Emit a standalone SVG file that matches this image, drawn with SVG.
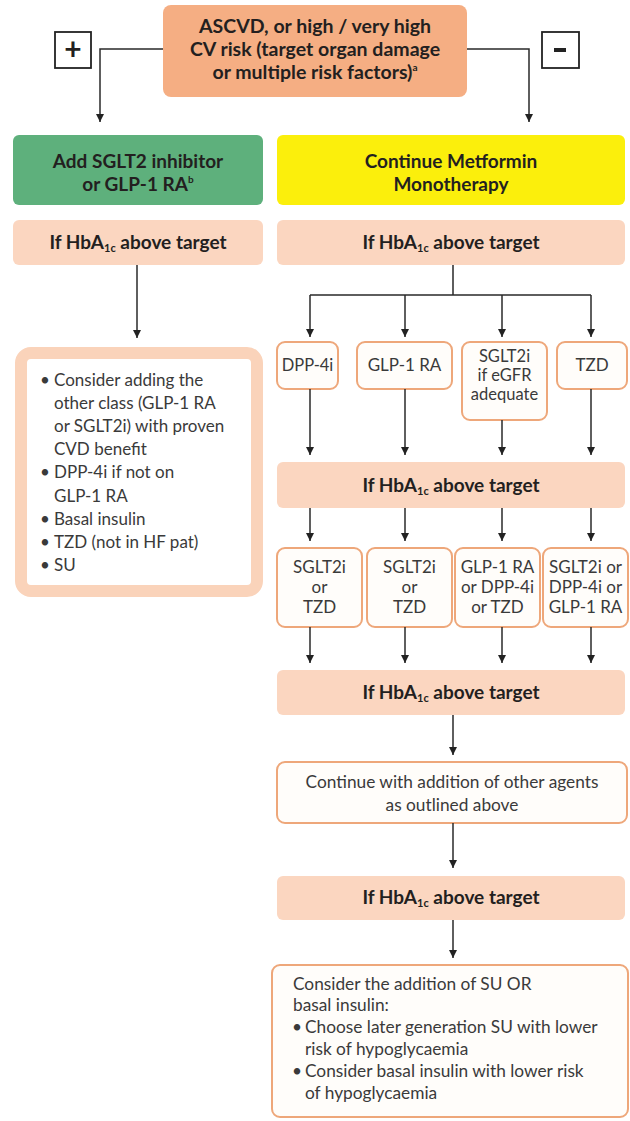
<svg xmlns="http://www.w3.org/2000/svg" width="630" height="1121" viewBox="0 0 630 1121">
<defs>
<marker id="arr" viewBox="0 0 10 10" refX="10" refY="5" markerWidth="8" markerHeight="9" markerUnits="userSpaceOnUse" orient="auto">
<path d="M0,0 L10,5 L0,10 Z" fill="#222"/>
</marker>
<style>
.hd{font-family:Lato,"Liberation Sans",sans-serif;font-weight:bold;fill:#231f20;text-anchor:middle}
.tx{font-family:Lato,"Liberation Sans",sans-serif;fill:#3a3a3a}
.mid{text-anchor:middle}
.hb{fill:#fbd6c0}
.sm{fill:#fffdfa;stroke:#eea77a;stroke-width:2}
.cn path{fill:none;stroke:#2a2a2a;stroke-width:1.5}
.cn path.a{marker-end:url(#arr)}
</style>
</defs>
<rect width="630" height="1121" fill="#ffffff"/>

<g id="top">
<rect x="163" y="5" width="304" height="92" rx="8" fill="#f5ae83"/>
<text class="hd" font-size="19.5"><tspan x="315" y="33">ASCVD, or high / very high</tspan><tspan x="315" y="56">CV risk (target organ damage</tspan><tspan x="315" y="79">or multiple risk factors)<tspan font-size="10" dy="-8">a</tspan></tspan></text>
</g>
<g id="plus">
<rect x="55" y="32" width="36" height="36" fill="#fff" stroke="#222" stroke-width="1.8"/>
<text x="73" y="60" class="hd" font-size="30">+</text>
</g>
<g id="minus">
<rect x="542" y="32" width="37" height="36" fill="#fff" stroke="#222" stroke-width="1.8"/>
<rect x="554" y="48" width="12" height="4" fill="#222"/>
</g>

<g id="add-sglt2">
<rect x="13" y="135" width="250" height="70" rx="6" fill="#5eb07c"/>
<text class="hd" font-size="19"><tspan x="138" y="168">Add SGLT2 inhibitor</tspan><tspan x="138" y="191">or GLP-1 RA<tspan font-size="10" dy="-8">b</tspan></tspan></text>
</g>
<g id="continue-metformin">
<rect x="277" y="135" width="348" height="70" rx="6" fill="#fbef0c"/>
<text class="hd" font-size="19"><tspan x="451" y="168">Continue Metformin</tspan><tspan x="451" y="191">Monotherapy</tspan></text>
</g>

<g id="hba1c-left">
<rect class="hb" x="13" y="220" width="250" height="45" rx="6"/>
<text class="hd" font-size="19" x="138" y="249">If HbA<tspan font-size="11" dy="3">1c</tspan><tspan dy="-3"> above target</tspan></text>
</g>
<g id="hba1c-right-1">
<rect class="hb" x="277" y="220" width="348" height="45" rx="6"/>
<text class="hd" font-size="19" x="451" y="249">If HbA<tspan font-size="11" dy="3">1c</tspan><tspan dy="-3"> above target</tspan></text>
</g>

<g id="left-options">
<rect x="21" y="353" width="236" height="238" rx="10" fill="#fff" stroke="#fad3ba" stroke-width="12"/>
<text class="tx" font-size="17">
<tspan x="40" y="386">•</tspan><tspan x="54" y="386">Consider adding the</tspan>
<tspan x="54" y="409">other class (GLP-1 RA</tspan>
<tspan x="54" y="432">or SGLT2i) with proven</tspan>
<tspan x="54" y="455">CVD benefit</tspan>
<tspan x="40" y="478">•</tspan><tspan x="54" y="478">DPP-4i if not on</tspan>
<tspan x="54" y="502">GLP-1 RA</tspan>
<tspan x="40" y="525">•</tspan><tspan x="54" y="525">Basal insulin</tspan>
<tspan x="40" y="548">•</tspan><tspan x="54" y="548">TZD (not in HF pat)</tspan>
<tspan x="40" y="571">•</tspan><tspan x="54" y="571">SU</tspan>
</text>
</g>

<g id="dpp4i">
<rect class="sm" x="277" y="342" width="61" height="47" rx="8"/>
<text class="tx mid" font-size="16.5" x="307.5" y="371">DPP-4i</text>
</g>
<g id="glp1ra">
<rect class="sm" x="357" y="342" width="95" height="47" rx="8"/>
<text class="tx mid" font-size="17" x="404.5" y="371">GLP-1 RA</text>
</g>
<g id="sglt2i">
<rect class="sm" x="462" y="342" width="85" height="78" rx="8"/>
<text class="tx mid" font-size="16.5"><tspan x="504.5" y="362">SGLT2i</tspan><tspan x="504.5" y="381">if eGFR</tspan><tspan x="504.5" y="400">adequate</tspan></text>
</g>
<g id="tzd">
<rect class="sm" x="557" y="342" width="70" height="47" rx="8"/>
<text class="tx mid" font-size="17" x="592" y="371">TZD</text>
</g>

<g id="hba1c-right-2">
<rect class="hb" x="277" y="462" width="348" height="46" rx="6"/>
<text class="hd" font-size="19" x="451" y="492">If HbA<tspan font-size="11" dy="3">1c</tspan><tspan dy="-3"> above target</tspan></text>
</g>

<g id="opt-a">
<rect class="sm" x="277" y="548" width="85" height="79" rx="8"/>
<text class="tx mid" font-size="17"><tspan x="319.5" y="573">SGLT2i</tspan><tspan x="319.5" y="593">or</tspan><tspan x="319.5" y="613">TZD</tspan></text>
</g>
<g id="opt-b">
<rect class="sm" x="367" y="548" width="85" height="79" rx="8"/>
<text class="tx mid" font-size="17"><tspan x="409.5" y="573">SGLT2i</tspan><tspan x="409.5" y="593">or</tspan><tspan x="409.5" y="613">TZD</tspan></text>
</g>
<g id="opt-c">
<rect class="sm" x="455" y="548" width="85" height="79" rx="8"/>
<text class="tx mid" font-size="17"><tspan x="497.5" y="573">GLP-1 RA</tspan><tspan x="497.5" y="593">or DPP-4i</tspan><tspan x="497.5" y="613">or TZD</tspan></text>
</g>
<g id="opt-d">
<rect class="sm" x="543" y="548" width="85" height="79" rx="8"/>
<text class="tx mid" font-size="17"><tspan x="585.5" y="573">SGLT2i or</tspan><tspan x="585.5" y="593">DPP-4i or</tspan><tspan x="585.5" y="613">GLP-1 RA</tspan></text>
</g>

<g id="hba1c-right-3">
<rect class="hb" x="277" y="670" width="348" height="45" rx="6"/>
<text class="hd" font-size="19" x="451" y="699">If HbA<tspan font-size="11" dy="3">1c</tspan><tspan dy="-3"> above target</tspan></text>
</g>

<g id="continue-addition">
<rect class="sm" x="277" y="762" width="350" height="61" rx="8"/>
<text class="tx mid" font-size="17.3"><tspan x="452" y="788">Continue with addition of other agents</tspan><tspan x="452" y="811">as outlined above</tspan></text>
</g>

<g id="hba1c-right-4">
<rect class="hb" x="277" y="876" width="348" height="44" rx="6"/>
<text class="hd" font-size="19" x="451" y="904">If HbA<tspan font-size="11" dy="3">1c</tspan><tspan dy="-3"> above target</tspan></text>
</g>

<g id="su-basal">
<rect class="sm" x="272" y="965" width="356" height="152" rx="8"/>
<text class="tx" font-size="17.3">
<tspan x="293" y="990">Consider the addition of SU OR</tspan>
<tspan x="293" y="1011">basal insulin:</tspan>
<tspan x="292" y="1033">•</tspan><tspan x="305" y="1033">Choose later generation SU with lower</tspan>
<tspan x="305" y="1055">risk of hypoglycaemia</tspan>
<tspan x="292" y="1077">•</tspan><tspan x="305" y="1077">Consider basal insulin with lower risk</tspan>
<tspan x="305" y="1099">of hypoglycaemia</tspan>
</text>
</g>

<g id="connectors" class="cn">
<path class="a" d="M163,49 H100 V122"/>
<path class="a" d="M467,49 H529 V122"/>
<path class="a" d="M137,265 V338"/>
<path d="M453,265 V295 M310,295 H591"/>
<path class="a" d="M310,295 V337"/>
<path class="a" d="M405,295 V337"/>
<path class="a" d="M502,295 V337"/>
<path class="a" d="M591,295 V337"/>
<path class="a" d="M310,389 V455"/>
<path class="a" d="M405,389 V455"/>
<path class="a" d="M502,420 V455"/>
<path class="a" d="M591,389 V455"/>
<path class="a" d="M310,508 V541"/>
<path class="a" d="M405,508 V541"/>
<path class="a" d="M502,508 V541"/>
<path class="a" d="M591,508 V541"/>
<path class="a" d="M310,627 V663"/>
<path class="a" d="M405,627 V663"/>
<path class="a" d="M502,627 V663"/>
<path class="a" d="M591,627 V663"/>
<path class="a" d="M453,715 V755"/>
<path class="a" d="M453,823 V868"/>
<path class="a" d="M453,920 V958"/>
</g>
</svg>
